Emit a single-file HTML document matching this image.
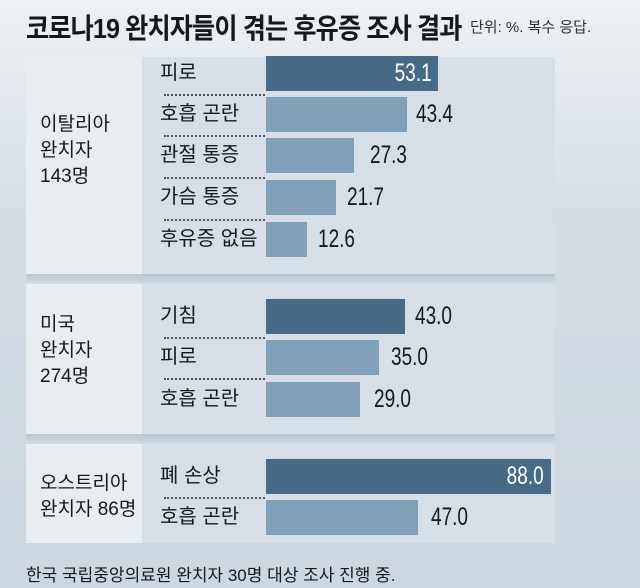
<!DOCTYPE html>
<html><head><meta charset="utf-8"><style>
*{margin:0;padding:0;box-sizing:border-box}
body{width:640px;height:588px;overflow:hidden;position:relative;font-family:"Liberation Sans","Noto Sans CJK KR",sans-serif;color:#15191e;
background:linear-gradient(180deg,#edf1f4 0%,#d3dce3 40%,#cdd7df 100%)}
.a{position:absolute}
.title{left:26px;top:7px;font-size:28px;letter-spacing:-1px;font-weight:600;transform:scaleX(0.9);transform-origin:left;white-space:nowrap}
.sub{left:470px;top:16px;font-size:15px;white-space:nowrap;color:#2a3038}
.panel{left:26px;width:529px;background:#d6dfe6}
.lbox{left:26px;width:116px;background:#e7edf1}
.shadow{left:26px;width:529px;height:9px;background:linear-gradient(180deg,#b9c6d0,#cfd9e0)}
.grp{left:40px;font-size:19px;line-height:26px;white-space:nowrap}
.lab{left:160px;font-size:20px;white-space:nowrap;line-height:35px;height:35px}
.bar{left:266px;height:35px}
.d{background:#466b89}
.l{background:#80a0b8}
.v{font-size:25px;line-height:35px;height:35px;transform:scaleX(0.76);transform-origin:left;white-space:nowrap}
.vin{color:#fff;transform-origin:right}
.dot{left:164px;width:101px;border-top:2px dotted #4a5562;height:0}
.foot{left:26px;top:561px;font-size:17px;white-space:nowrap}
</style></head><body>
<div class="a title">코로나19 완치자들이 겪는 후유증 조사 결과</div>
<div class="a sub">단위: %. 복수 응답.</div>

<div class="a panel" style="top:57px;height:217px"></div>
<div class="a lbox" style="top:57px;height:217px"></div>
<div class="a shadow" style="top:274px"></div>
<div class="a panel" style="top:284px;height:150px"></div>
<div class="a lbox" style="top:284px;height:150px"></div>
<div class="a shadow" style="top:434px"></div>
<div class="a panel" style="top:444px;height:99px"></div>
<div class="a lbox" style="top:444px;height:99px"></div>

<div class="a grp" style="top:112px">이탈리아<br>완치자<br>143명</div>
<div class="a grp" style="top:312px">미국<br>완치자<br>274명</div>
<div class="a grp" style="top:471px">오스트리아<br>완치자 86명</div>

<div class="a lab" style="top:56px">피로</div>
<div class="a bar d" style="top:56px;width:172px"></div>
<div class="a v vin" style="top:56px;right:208px">53.1</div>
<div class="a dot" style="top:94px"></div>
<div class="a lab" style="top:97px">호흡 곤란</div>
<div class="a bar l" style="top:97px;width:141px"></div>
<div class="a v" style="top:97px;left:416px">43.4</div>
<div class="a dot" style="top:135px"></div>
<div class="a lab" style="top:138px">관절 통증</div>
<div class="a bar l" style="top:138px;width:88px"></div>
<div class="a v" style="top:138px;left:370px">27.3</div>
<div class="a dot" style="top:177px"></div>
<div class="a lab" style="top:180px">가슴 통증</div>
<div class="a bar l" style="top:180px;width:70px"></div>
<div class="a v" style="top:180px;left:347px">21.7</div>
<div class="a dot" style="top:219px"></div>
<div class="a lab" style="top:222px">후유증 없음</div>
<div class="a bar l" style="top:222px;width:41px"></div>
<div class="a v" style="top:222px;left:318px">12.6</div>

<div class="a lab" style="top:299px">기침</div>
<div class="a bar d" style="top:299px;width:139px"></div>
<div class="a v" style="top:299px;left:415px">43.0</div>
<div class="a dot" style="top:337px"></div>
<div class="a lab" style="top:340px">피로</div>
<div class="a bar l" style="top:340px;width:113px"></div>
<div class="a v" style="top:340px;left:391px">35.0</div>
<div class="a dot" style="top:378px"></div>
<div class="a lab" style="top:382px">호흡 곤란</div>
<div class="a bar l" style="top:382px;width:94px"></div>
<div class="a v" style="top:382px;left:374px">29.0</div>

<div class="a lab" style="top:459px">폐 손상</div>
<div class="a bar d" style="top:459px;width:285px"></div>
<div class="a v vin" style="top:459px;right:96px">88.0</div>
<div class="a dot" style="top:497px"></div>
<div class="a lab" style="top:500px">호흡 곤란</div>
<div class="a bar l" style="top:500px;width:152px"></div>
<div class="a v" style="top:500px;left:431px">47.0</div>

<div class="a foot">한국 국립중앙의료원 완치자 30명 대상 조사 진행 중.</div>
</body></html>
